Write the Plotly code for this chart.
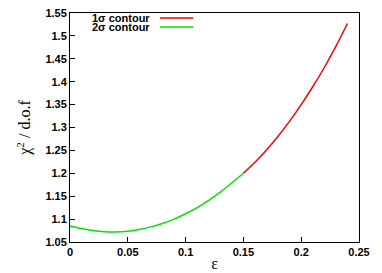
import plotly.graph_objects as go

# data
eps_2sigma = [0.0, 0.01, 0.02, 0.03, 0.04, 0.05, 0.06, 0.07, 0.08, 0.09, 0.10,
              0.11, 0.12, 0.13, 0.14, 0.15]
chi_2sigma = [1.085, 1.0793, 1.0749, 1.0725, 1.0721, 1.0737, 1.0773, 1.083, 1.0905,
              1.100, 1.1117, 1.125, 1.141, 1.159, 1.179, 1.200]
eps_1sigma = [0.15, 0.16, 0.17, 0.18, 0.19, 0.20, 0.21, 0.22, 0.23, 0.24]
chi_1sigma = [1.200, 1.224, 1.251, 1.281, 1.314, 1.350, 1.389, 1.431, 1.477, 1.527]

x_ticks = [0, 0.05, 0.1, 0.15, 0.2, 0.25]
x_ticklabels = ["0", "0.05", "0.1", "0.15", "0.2", "0.25"]
y_ticks = [1.05, 1.1, 1.15, 1.2, 1.25, 1.3, 1.35, 1.4, 1.45, 1.5, 1.55]
y_ticklabels = ["1.05", "1.1", "1.15", "1.2", "1.25", "1.3", "1.35", "1.4", "1.45", "1.5", "1.55"]

legend_labels = ["1σ contour", "2σ contour"]
red = "#ff0000"
green = "#00e600"

fig = go.Figure()
fig.add_trace(go.Scatter(x=eps_2sigma, y=chi_2sigma, mode="lines",
                         line=dict(color=green, width=1.5, shape="spline"),
                         name=legend_labels[1], showlegend=False))
fig.add_trace(go.Scatter(x=eps_1sigma, y=chi_1sigma, mode="lines",
                         line=dict(color=red, width=1.5, shape="spline"),
                         name=legend_labels[0], showlegend=False))

tickfont = dict(family="Liberation Sans", size=11, color="black", weight="bold")

fig.update_xaxes(range=[0, 0.25], tickvals=x_ticks, ticktext=x_ticklabels,
                 ticks="inside", ticklen=5, tickcolor="black",
                 showline=True, linecolor="black", linewidth=1, mirror=True,
                 showgrid=False, zeroline=False, tickfont=tickfont, automargin=False,
                 ticklabeloverflow="allow",
                 title=dict(text="ε", font=dict(family="Liberation Serif", size=16, color="black"),
                            standoff=0))
fig.update_yaxes(range=[1.05, 1.55], tickvals=y_ticks, ticktext=y_ticklabels,
                 ticks="inside", ticklen=5, tickcolor="black",
                 showline=True, linecolor="black", linewidth=1, mirror=True,
                 showgrid=False, zeroline=False, tickfont=tickfont, automargin=False,
                 ticklabeloverflow="allow",
                 title=dict(text="χ<sup>2</sup> / d.o.f",
                            font=dict(family="Liberation Serif", size=16, color="black"),
                            standoff=10))

# gnuplot-style key: text right-aligned, line sample to the right
key_y = [0.978, 0.939]
key_colors = [red, green]
for lbl, yy, col in zip(legend_labels, key_y, key_colors):
    fig.add_annotation(x=0.284, y=yy, xref="paper", yref="paper", text=lbl,
                       showarrow=False, xanchor="right", yanchor="middle",
                       font=dict(family="Liberation Sans", size=11, color="black", weight="bold"))
    fig.add_shape(type="line", xref="paper", yref="paper", x0=0.311, x1=0.426,
                  y0=yy, y1=yy, line=dict(color=col, width=1.5))

# page body has an 8px default margin: shrink the figure so it fits the window
fig.update_layout(width=374, height=265, margin=dict(l=62, r=23, t=5, b=31),
                  plot_bgcolor="white", paper_bgcolor="white", showlegend=False)

fig.write_html("out.html")
